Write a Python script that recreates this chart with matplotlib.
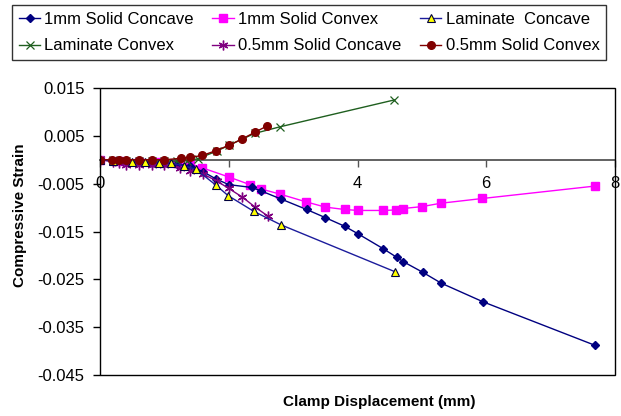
import matplotlib.pyplot as plt
from matplotlib.patches import Rectangle

plt.rcParams['font.family'] = ['Liberation Sans', 'DejaVu Sans']

# clamp displacement (mm) / compressive strain for each specimen
solid1_concave_x = [0, 0.2, 0.4, 0.6, 0.8, 1.0, 1.2, 1.4, 1.6, 1.8, 2.0, 2.36, 2.5, 2.81, 3.21, 3.5, 3.8,
                    4.01, 4.4, 4.61, 4.71, 5.01, 5.3, 5.95, 7.69]
solid1_concave_y = [0, -0.0002, -0.0004, -0.0005, -0.0006, -0.0007, -0.0009, -0.0013, -0.0025, -0.004,
                    -0.0052, -0.0058, -0.0065, -0.0082, -0.0104, -0.0121, -0.0139, -0.0155, -0.0186,
                    -0.0204, -0.0213, -0.0235, -0.0258, -0.0297, -0.0388]

solid1_convex_x = [0, 0.3, 0.6, 0.9, 1.2, 1.4, 1.59, 2.0, 2.33, 2.5, 2.8, 3.2, 3.5, 3.8, 4.01, 4.4, 4.6,
                   4.7, 5.0, 5.29, 5.94, 7.69]
solid1_convex_y = [0, -0.0003, -0.0004, -0.0005, -0.0006, -0.0009, -0.0017, -0.0036, -0.0052, -0.0061,
                   -0.0072, -0.0088, -0.0099, -0.0104, -0.0106, -0.0106, -0.0105, -0.0102, -0.0098,
                   -0.0091, -0.0081, -0.0055]

lam_concave_x = [0, 0.2, 0.49, 0.7, 0.91, 1.11, 1.31, 1.49, 1.8, 1.99, 2.39, 2.81, 4.58]
lam_concave_y = [0, -0.0003, -0.0005, -0.0005, -0.0006, -0.0007, -0.0013, -0.002, -0.0053, -0.0075,
                 -0.0108, -0.0136, -0.0234]

lam_convex_x = [0, 0.2, 0.4, 0.6, 0.8, 1.0, 1.2, 1.35, 1.52, 1.81, 2.0, 2.4, 2.8, 4.57]
lam_convex_y = [0, -0.0001, -0.0002, -0.0002, -0.0003, -0.0003, -0.0003, -0.0002, 0.0002, 0.0018,
                0.003, 0.0055, 0.0069, 0.0125]

solid05_concave_x = [0, 0.2, 0.3, 0.41, 0.6, 0.8, 1.0, 1.24, 1.4, 1.6, 1.81, 2.0, 2.21, 2.41, 2.61]
solid05_concave_y = [0, -0.0004, -0.0007, -0.001, -0.001, -0.0011, -0.0012, -0.0018, -0.0023, -0.003,
                     -0.0044, -0.006, -0.0078, -0.0099, -0.0118]

solid05_convex_x = [0, 0.19, 0.3, 0.4, 0.6, 0.8, 1.0, 1.26, 1.4, 1.59, 1.8, 2.0, 2.2, 2.4, 2.6]
solid05_convex_y = [0, 0, -0.0001, 0, 0, 0, 0, 0.0003, 0.0005, 0.0009, 0.0019, 0.003, 0.0043, 0.0057, 0.0071]

y_ticks = [0.015, 0.005, -0.005, -0.015, -0.025, -0.035, -0.045]
x_ticks = [0, 2, 4, 6, 8]

fig = plt.figure(figsize=(6.21, 4.16), dpi=100)
ax = fig.add_axes([100 / 621, 1 - 375 / 416, 515 / 621, 287 / 416])

lw = 1.0
ax.plot(solid1_concave_x, solid1_concave_y, color='#000080', lw=lw, marker='D', ms=4.5,
        mfc='#000080', mec='#000080', label='1mm Solid Concave', zorder=3)
ax.plot(solid1_convex_x, solid1_convex_y, color='#FF00FF', lw=lw, marker='s', ms=5.5,
        mfc='#FF00FF', mec='#FF00FF', label='1mm Solid Convex', zorder=2)
ax.plot(lam_concave_x, lam_concave_y, color='#1c1c9c', lw=lw, marker='^', ms=5.5,
        mfc='#FFFF00', mec='#000040', mew=0.8, label='Laminate  Concave', zorder=4)
ax.plot(lam_convex_x, lam_convex_y, color='#1f5f1f', lw=lw, marker='x', ms=5.5,
        mec='#1f5f1f', mew=0.9, label='Laminate Convex', zorder=3)
ax.plot(solid05_concave_x, solid05_concave_y, color='#800080', lw=lw, marker=(6, 2, 0), ms=7,
        mec='#800080', mew=1.0, label='0.5mm Solid Concave', zorder=3)
ax.plot(solid05_convex_x, solid05_convex_y, color='#800000', lw=lw, marker='o', ms=5.5,
        mfc='#800000', mec='#800000', label='0.5mm Solid Convex', zorder=5)

ax.set_xlim(0, 8)
ax.set_ylim(-0.045, 0.015)
ax.set_yticks(y_ticks)
ax.set_yticklabels([f'{v:.3f}' for v in y_ticks])
ax.set_xticks(x_ticks)

# x axis runs through zero, plot box drawn separately
for s in ['top', 'right', 'left']:
    ax.spines[s].set_visible(False)
ax.spines['bottom'].set_position(('data', 0))
ax.spines['bottom'].set_color('#555555')
ax.spines['bottom'].set_linewidth(1.3)
ax.add_patch(Rectangle((0, 0), 1, 1, transform=ax.transAxes, fill=False,
                       edgecolor='black', lw=1.0, clip_on=False, zorder=6))

ax.tick_params(axis='y', direction='out', length=5, width=1, labelsize=12, pad=6)
ax.tick_params(axis='x', direction='out', length=5, width=1, color='#555555',
               labelsize=12, pad=7)

fig.text(20 / 621, 1 - 215 / 416, 'Compressive Strain', rotation=90, ha='center', va='center',
         fontsize=11, fontweight='bold')
fig.text(379 / 621, 1 - 402 / 416, 'Clamp Displacement (mm)', ha='center', va='center',
         fontsize=11, fontweight='bold')

# legend reads row by row, matplotlib fills column by column
handles, labels = ax.get_legend_handles_labels()
order = [0, 3, 1, 4, 2, 5]
leg = fig.legend([handles[i] for i in order], [labels[i] for i in order],
                 loc='upper left', bbox_to_anchor=(12 / 621, 1 - 5 / 416), ncol=3,
                 numpoints=1, fontsize=12, frameon=True, fancybox=False, borderaxespad=0,
                 handlelength=1.3, handletextpad=0.25, columnspacing=1.1,
                 borderpad=0.4, labelspacing=0.7)
leg.get_frame().set_edgecolor('black')
leg.get_frame().set_linewidth(1.0)

fig.savefig('out.png', dpi=100)
